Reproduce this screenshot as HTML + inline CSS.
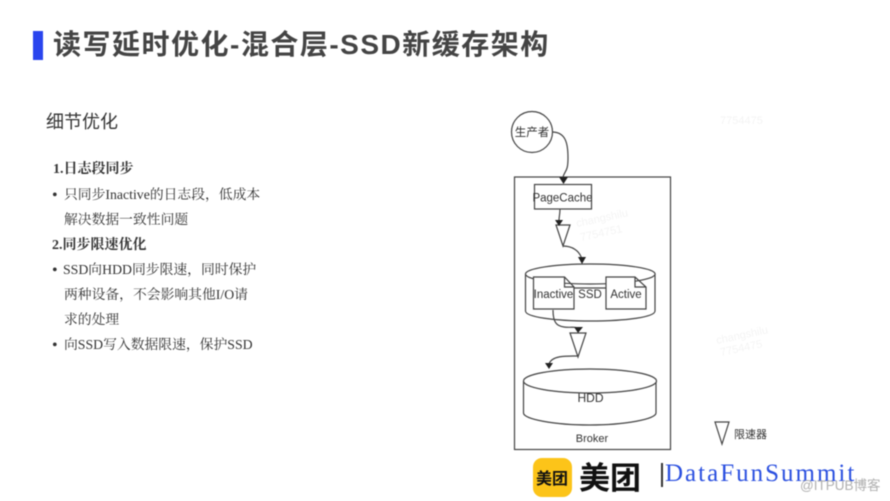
<!DOCTYPE html>
<html><head><meta charset="utf-8"><style>
html,body{margin:0;padding:0;background:#fff}
#p{position:relative;width:890px;height:501px;overflow:hidden;background:#fff;filter:blur(.4px)}
.t{position:absolute;white-space:nowrap;line-height:1}
.s{font-family:"Liberation Serif","Noto Serif CJK SC",serif;font-size:13.8px;color:#333}
.b{font-size:14px;font-weight:700}
svg{position:absolute;left:0;top:0}
text{font-family:"Liberation Sans","Noto Sans CJK SC",sans-serif;fill:#333}
</style></head><body><div id="p">
<div style="position:absolute;left:33px;top:31px;width:10px;height:29px;background:#2a45ee"></div>
<div class="t" style="left:53px;top:31px;font:700 28px/1 'Liberation Sans','Noto Sans CJK SC',sans-serif;color:#444;letter-spacing:1.5px">读写延时优化-混合层-SSD新缓存架构</div>
<div class="t" style="left:46px;top:113px;font:400 18px/1 'Liberation Sans','Noto Sans CJK SC',sans-serif;color:#333">细节优化</div>
<div class="t s b" style="left:53px;top:163px">1.日志段同步</div>
<div class="t s" style="left:52px;top:188px;font-size:16px">•</div><div class="t s" style="left:64px;top:188px">只同步Inactive的日志段，低成本</div>
<div class="t s" style="left:64px;top:213px">解决数据一致性问题</div>
<div class="t s b" style="left:52px;top:238.500px">2.同步限速优化</div>
<div class="t s" style="left:52px;top:263px;font-size:16px">•</div><div class="t s" style="left:63px;top:263px">SSD向HDD同步限速，同时保护</div>
<div class="t s" style="left:64px;top:288px">两种设备，不会影响其他I/O请</div>
<div class="t s" style="left:64px;top:313px">求的处理</div>
<div class="t s" style="left:52px;top:338px;font-size:16px">•</div><div class="t s" style="left:64px;top:338px">向SSD写入数据限速，保护SSD</div>

<svg width="890" height="501" viewBox="0 0 890 501" fill="none" stroke="#444" stroke-width="1.2">
<g stroke="none" style="opacity:.05">
<text x="720" y="124" font-size="11">7754475</text>
<text x="577" y="227" font-size="11" transform="rotate(-12 577 227)">changshilu</text>
<text x="581" y="241" font-size="11" transform="rotate(-12 581 241)">7754751</text>
<text x="717" y="344" font-size="11" transform="rotate(-12 717 344)">changshilu</text>
<text x="721" y="356" font-size="11" transform="rotate(-12 721 356)">7754475</text>
</g>
<circle cx="532" cy="132" r="20.500"/>
<rect x="514.500" y="177" width="156" height="272.500"/>
<rect x="534.500" y="184.500" width="57" height="24.500"/>
<path d="M552 132c14 0 16 12 16 26 0 14-3 12-5 19"/>
<path d="M560 209c0 5-1 8-1 11"/>
<path d="M563 246c8 0 17 4 19 14"/>
<polygon points="556,225 570,225 563,246" fill="#fff"/>
<path d="M525.500 274v37c0 6 29 10 65 10s64.500-4 64.500-10v-37"/>
<ellipse cx="590.300" cy="274" rx="64.800" ry="10" fill="#fff"/>
<path d="M574 288H606"/>
<path d="M533.500 277h31l9.500 10v22h-40.500zM564.500 277v10h9.500" fill="#fff"/>
<path d="M606 277h29l11 10v22h-40zM635 277v10h11" fill="#fff"/>
<path d="M553 310c0 13 4 16 11 17 7 1 13-1 14 2"/>
<polygon points="570,333 586,333 578,357" fill="#fff"/>
<path d="M578 356c-10 0-26-1-29 8"/>
<path d="M523.500 381v32c0 6 30 12 66 12s66.500-6 66.500-12v-32"/>
<ellipse cx="590" cy="381" rx="66.500" ry="12" fill="#fff"/>
<polygon points="715,422 729,422 722,444" fill="#fff"/>
<g fill="#222" stroke="none">
<polygon points="559,177 568,177 563.500,184"/>
<polygon points="555,220 563,220 559,226"/>
<polygon points="578,257 586,257 582,264"/>
<polygon points="574,327 583,327 578,333"/>
<polygon points="545,363 553,363 549,369"/>
</g>
<g stroke="none">
<text x="532" y="136" font-size="11.500" text-anchor="middle">生产者</text>
<text x="562.500" y="201.500" font-size="11.500" text-anchor="middle">PageCache</text>
<text x="553.500" y="298" font-size="11.500" text-anchor="middle">Inactive</text>
<text x="590" y="298" font-size="11.500" text-anchor="middle">SSD</text>
<text x="626" y="298" font-size="11.500" text-anchor="middle">Active</text>
<text x="590.500" y="402" font-size="12" text-anchor="middle">HDD</text>
<text x="592" y="442" font-size="11" text-anchor="middle">Broker</text>
<text x="734" y="438" font-size="11">限速器</text>
</g>
</svg>

<div style="position:absolute;left:533px;top:458px;width:39px;height:39px;background:#fcc419;border-radius:9px"></div>
<div class="t" style="left:536px;top:469px;font:700 16px/1 'Noto Sans CJK SC',sans-serif;color:#111">美团</div>
<div class="t" style="left:579px;top:460px;font:700 31px/1 'Noto Sans CJK SC',sans-serif;color:#111">美团</div>
<div style="position:absolute;left:661px;top:463px;width:1.500px;height:24px;background:#333"></div>
<div class="t" style="left:665px;top:461px;font:400 25px/1 'Liberation Serif',serif;color:#2b50e0;letter-spacing:2px">DataFunSummit</div>
<div class="t" style="left:800px;top:479px;font:400 13.500px/1 'Liberation Sans','Noto Sans CJK SC',sans-serif;color:#b0b0b0">@ITPUB博客</div>
</div></body></html>
